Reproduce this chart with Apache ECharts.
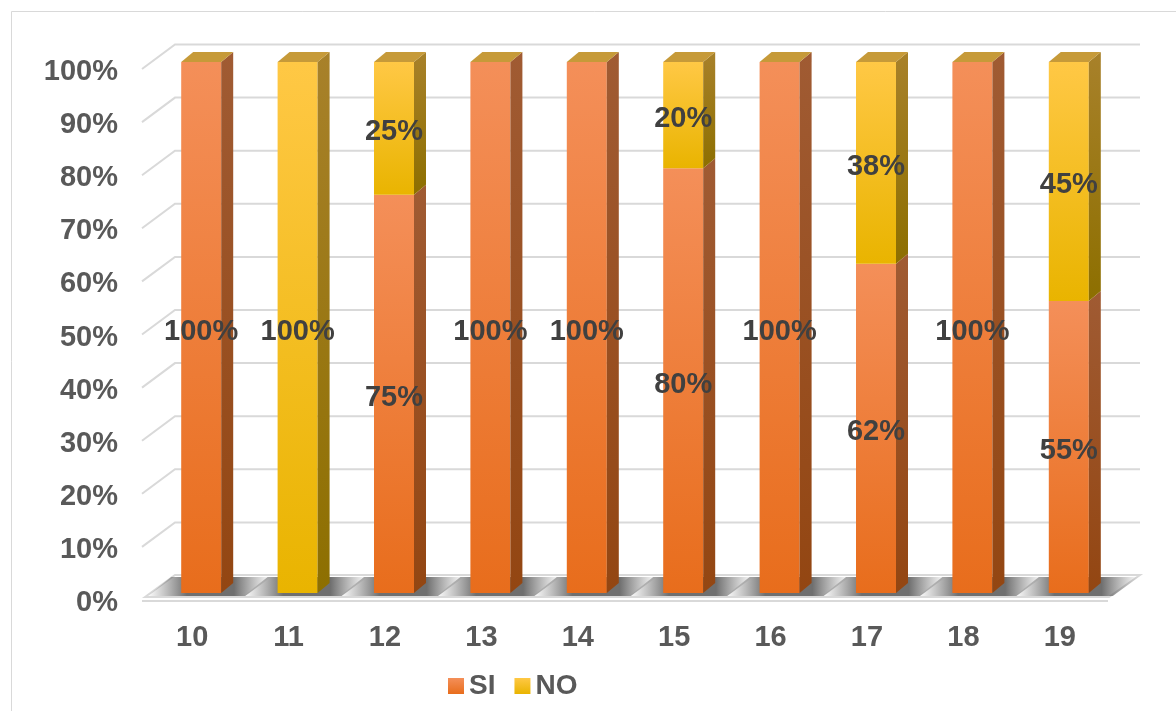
<!DOCTYPE html>
<html>
<head>
<meta charset="utf-8">
<script src="https://cdn.jsdelivr.net/npm/echarts@6/dist/echarts.min.js"></script>
<style>
  html, body { margin: 0; padding: 0; background: #ffffff; }
  #chart { width: 1176px; height: 711px; }
</style>
</head>
<body>
<div id="chart"></div>
<script>
// Survey answers per group, percent of respondents
const categories = ['10', '11', '12', '13', '14', '15', '16', '17', '18', '19'];
const siValues = [100, 0, 75, 100, 100, 80, 100, 62, 100, 55];
const noValues = [0, 100, 25, 0, 0, 20, 0, 38, 0, 45];
const yTicks = [0, 10, 20, 30, 40, 50, 60, 70, 80, 90, 100];

// 3D look of the columns
const BAR_W = 40;
const DX = 12, DY = -10;          // column depth
const FONT = '"Liberation Sans", Arial, sans-serif';

const G = echarts.graphic;
const vGrad = (a, b) => new G.LinearGradient(0, 0, 0, 1, [{ offset: 0, color: a }, { offset: 1, color: b }]);

const styles = {
  SI: { front: ['#F48F59', '#E86D1C'], side: ['#A05B33', '#934612'] },
  NO: { front: ['#FFC845', '#E9B400'], side: ['#A8812A', '#8D6F00'] }
};
const TOP_FACE = '#C69A39';

function totalAt(i) { return siValues[i] + noValues[i]; }

function barRenderer(name) {
  const st = styles[name];
  return function (params, api) {
    const i = api.value(0), lo = api.value(1), hi = api.value(2);
    const val = hi - lo;
    if (val <= 0) return null;
    const pLo = api.coord([i, lo]);
    const pHi = api.coord([i, hi]);
    const xL = pLo[0] - BAR_W / 2, xR = pLo[0] + BAR_W / 2;
    const yB = pLo[1], yT = pHi[1];
    const children = [
      { type: 'rect', shape: { x: xL, y: yT, width: BAR_W, height: yB - yT },
        style: { fill: vGrad(st.front[0], st.front[1]) } },
      { type: 'polygon', shape: { points: [[xR, yT], [xR + DX, yT + DY], [xR + DX, yB + DY], [xR, yB]] },
        style: { fill: vGrad(st.side[0], st.side[1]) } }
    ];
    if (hi >= totalAt(i)) {
      children.push({ type: 'polygon',
        shape: { points: [[xL, yT], [xL + DX, yT + DY], [xR + DX, yT + DY], [xR, yT]] },
        style: { fill: TOP_FACE } });
    }
    children.push({ type: 'text', x: pLo[0], y: (yT + yB) / 2 + 4,
      style: { text: val + '%', align: 'center', verticalAlign: 'middle',
               font: 'bold 29px ' + FONT, fill: '#404040' } });
    return { type: 'group', children: children };
  };
}

// Back wall gridlines, floor and the soft shadows at the column feet
function wallRenderer(params, api) {
  const v = api.value(1);
  const band = api.size([1, 0])[0];
  const p = api.coord([0, v]);
  const gL = p[0] - band / 2;
  const gR = gL + band * categories.length;
  const y = p[1];
  const line = '#D9D9D9';
  if (v !== 0) {
    return { type: 'polyline',
      shape: { points: [[gL - 11, y + 7], [gL + 22, y - 17.5], [gR + 23, y - 17.5]] },
      style: { stroke: line, lineWidth: 2, fill: null } };
  }
  const children = [
    { type: 'polygon',
      shape: { points: [[gL - 8, y + 4], [gL + 22, y - 18], [gR + 23, y - 18], [gR - 8, y + 4]] },
      style: { fill: '#FFFFFF', stroke: line, lineWidth: 2 } },
    { type: 'line', shape: { x1: gL - 11, y1: y + 8, x2: gR - 9, y2: y + 8 },
      style: { stroke: line, lineWidth: 2 } }
  ];
  for (let i = 0; i < categories.length; i++) {
    const cx = api.coord([i, 0])[0];
    const xL = cx - BAR_W / 2, xR = cx + BAR_W / 2;
    children.push({ type: 'polygon',
      shape: { points: [[xL - 34, y + 3], [xR + 24, y + 3], [xR + 50, y - 16], [xL - 10, y - 16]] },
      style: { fill: new G.LinearGradient(0, 0, 1, 0, [
        { offset: 0, color: 'rgba(100,100,100,0)' },
        { offset: 0.32, color: 'rgba(75,75,75,0.8)' },
        { offset: 0.7, color: 'rgba(75,75,75,0.8)' },
        { offset: 1, color: 'rgba(100,100,100,0)' }
      ]) } });
  }
  return { type: 'group', children: children };
}

const siData = categories.map((c, i) => [i, 0, siValues[i]]);
const noData = categories.map((c, i) => [i, siValues[i], siValues[i] + noValues[i]]);

const chart = echarts.init(document.getElementById('chart'));
chart.setOption({
  animation: false,
  backgroundColor: '#ffffff',
  graphic: [{
    type: 'rect', left: 9, top: 9, z: -10,
    shape: { width: 1200, height: 720 },
    style: { fill: null, stroke: '#D9D9D9', lineWidth: 1 }
  }],
  grid: { left: 153, width: 964, top: 62, height: 531 },
  legend: {
    left: 443, top: 667, itemWidth: 16, itemHeight: 16, itemGap: 19,
    icon: 'rect',
    textStyle: { fontFamily: FONT, fontSize: 28, fontWeight: 'bold', color: '#595959' },
    data: ['SI', 'NO']
  },
  xAxis: {
    type: 'category', data: categories,
    axisLine: { show: false }, axisTick: { show: false },
    axisLabel: { margin: 30, fontFamily: FONT, fontSize: 29, fontWeight: 'bold', color: '#595959',
                 padding: [0, 18, 0, 0] }
  },
  yAxis: {
    type: 'value', min: 0, max: 100, interval: 10,
    splitLine: { show: false }, axisLine: { show: false }, axisTick: { show: false },
    axisLabel: { margin: 35, fontFamily: FONT, fontSize: 29, fontWeight: 'bold', color: '#595959',
                 verticalAlign: 'top', lineHeight: 20, formatter: v => v + '%' }
  },
  series: [
    { type: 'custom', name: 'walls', renderItem: wallRenderer, z: 1, silent: true,
      data: yTicks.map(v => [0, v]) },
    { type: 'custom', name: 'SI', renderItem: barRenderer('SI'), z: 2,
      itemStyle: { color: vGrad(styles.SI.front[0], styles.SI.front[1]) },
      encode: { x: 0, y: [1, 2] }, data: siData },
    { type: 'custom', name: 'NO', renderItem: barRenderer('NO'), z: 3,
      itemStyle: { color: vGrad(styles.NO.front[0], styles.NO.front[1]) },
      encode: { x: 0, y: [1, 2] }, data: noData }
  ]
});
</script>
</body>
</html>
